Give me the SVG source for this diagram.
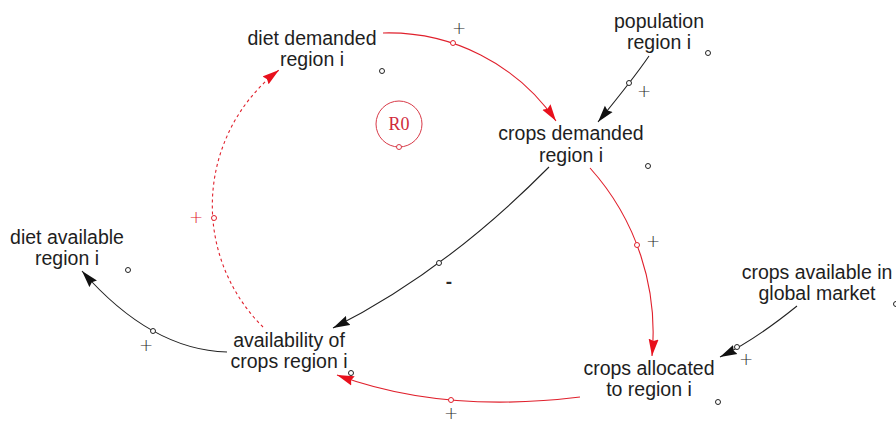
<svg xmlns="http://www.w3.org/2000/svg" width="896" height="423" viewBox="0 0 896 423">
  <style>
    .lbl { font-family: "Liberation Sans", Arial, sans-serif; font-size: 19.5px; fill: #1e1e1e; text-anchor: middle; }
    .sign { font-family: "DejaVu Sans", sans-serif; font-size: 17px; font-weight: 200; text-anchor: middle; dominant-baseline: central; }
    .minus { font-family: "Liberation Sans", Arial, sans-serif; font-size: 19px; font-weight: bold; text-anchor: middle; dominant-baseline: central; }
    .blk { fill: #2a2a2a; }
    .redt { fill: #e0202c; }
    .link { fill: none; stroke-width: 1.1; }
    .black { stroke: #222; }
    .red { stroke: #e0202c; }
    .dash { stroke-dasharray: 3 3; }
    .dot { fill: #fff; stroke-width: 1; }
  </style>
  <defs>
    <marker id="headBlack" markerUnits="userSpaceOnUse" markerWidth="17" markerHeight="11" viewBox="0 0 17 11" refX="17" refY="5.5" orient="auto">
      <path d="M0,0.5 L17,5.5 L0,10.5 L2,5.5 z" fill="#111" stroke="none"/>
    </marker>
    <marker id="headRed" markerUnits="userSpaceOnUse" markerWidth="17" markerHeight="11" viewBox="0 0 17 11" refX="17" refY="5.5" orient="auto">
      <path d="M0,0.5 L17,5.5 L0,10.5 L2,5.5 z" fill="#e8101c" stroke="none"/>
    </marker>
  </defs>

  <rect width="896" height="423" fill="#fff"/>

  <!-- connectors -->
  <g id="connectors">
    <path class="link red" d="M383,33 A203,203 0 0 1 556,121" marker-end="url(#headRed)"/>
    <path class="link black" d="M649,56 Q634,78 598,122" marker-end="url(#headBlack)"/>
    <path class="link black" d="M549,167 Q445,272 333,328" marker-end="url(#headBlack)"/>
    <path class="link red" d="M590,168 A246,246 0 0 1 652,356" marker-end="url(#headRed)"/>
    <path class="link black" d="M797,306 Q755,340 720,357" marker-end="url(#headBlack)"/>
    <path class="link red" d="M580,397 Q443,414 337,375" marker-end="url(#headRed)"/>
    <path class="link black" d="M227,352 Q151,350 82,271" marker-end="url(#headBlack)"/>
    <path class="link red dash" d="M263,327 A171,171 0 0 1 279,70" marker-end="url(#headRed)"/>

    <!-- link handles -->
    <circle class="dot red" cx="453" cy="43" r="2.5"/>
    <circle class="dot black" cx="629" cy="83" r="2.5"/>
    <circle class="dot black" cx="439" cy="263" r="2.5"/>
    <circle class="dot red" cx="637" cy="245" r="2.5"/>
    <circle class="dot black" cx="737" cy="347" r="2.5"/>
    <circle class="dot red" cx="451" cy="400" r="2.5"/>
    <circle class="dot black" cx="153" cy="331" r="2.5"/>
    <circle class="dot red" cx="214" cy="218" r="2.5"/>

    <!-- polarity signs -->
    <text class="sign blk" x="459" y="28">+</text>
    <text class="sign blk" x="644" y="91">+</text>
    <text class="minus blk" x="449" y="281">-</text>
    <text class="sign blk" x="653" y="241">+</text>
    <text class="sign blk" x="746" y="359">+</text>
    <text class="sign blk" x="451" y="413">+</text>
    <text class="sign blk" x="146" y="345">+</text>
    <text class="sign redt" x="196" y="217">+</text>
  </g>

  <!-- loop marker -->
  <g id="loopR0">
    <circle cx="399" cy="124" r="23" fill="none" stroke="#d83a48" stroke-width="1"/>
    <circle class="dot" cx="399" cy="147" r="2.5" stroke="#d83a48"/>
    <text x="399" y="130" font-family="'Liberation Serif', 'Times New Roman', serif" font-size="18" fill="#d02a3a" text-anchor="middle">R0</text>
  </g>

  <!-- variables -->
  <g id="dietDemanded">
    <text class="lbl" x="312" y="45">diet demanded</text>
    <text class="lbl" x="312" y="66">region i</text>
    <circle class="dot black" cx="382" cy="71" r="2.5"/>
  </g>
  <g id="population">
    <text class="lbl" x="659" y="28">population</text>
    <text class="lbl" x="659" y="49">region i</text>
    <circle class="dot black" cx="708" cy="53" r="2.5"/>
  </g>
  <g id="cropsDemanded">
    <text class="lbl" x="571" y="140">crops demanded</text>
    <text class="lbl" x="571" y="162">region i</text>
    <circle class="dot black" cx="648" cy="166" r="2.5"/>
  </g>
  <g id="dietAvailable">
    <text class="lbl" x="67" y="244">diet available</text>
    <text class="lbl" x="67" y="265">region i</text>
    <circle class="dot black" cx="128" cy="270" r="2.5"/>
  </g>
  <g id="availabilityOfCrops">
    <text class="lbl" x="289" y="347">availability of</text>
    <text class="lbl" x="289" y="368">crops region i</text>
    <circle class="dot black" cx="351" cy="373" r="2.5"/>
  </g>
  <g id="cropsAllocated">
    <text class="lbl" x="649" y="375">crops allocated</text>
    <text class="lbl" x="649" y="396">to region i</text>
    <circle class="dot black" cx="718" cy="402" r="2.5"/>
  </g>
  <g id="cropsGlobalMarket">
    <text class="lbl" x="817" y="279">crops available in</text>
    <text class="lbl" x="817" y="300">global market</text>
    <circle class="dot black" cx="896" cy="304" r="2.5"/>
  </g>
</svg>
